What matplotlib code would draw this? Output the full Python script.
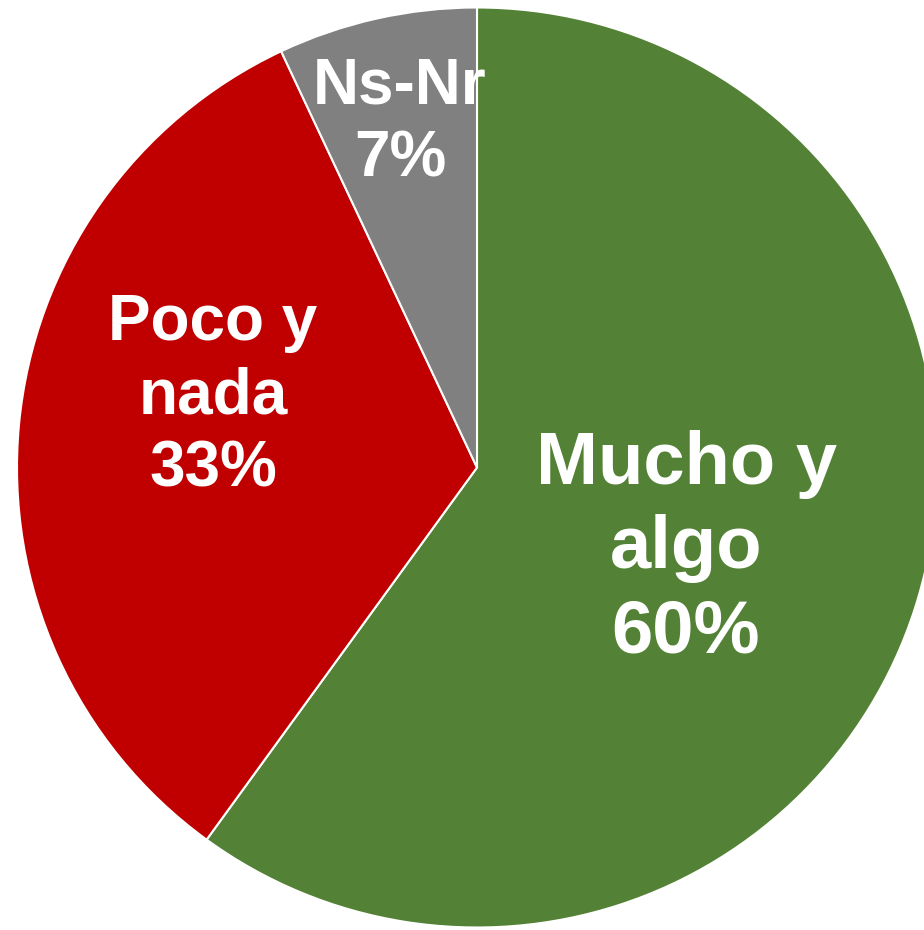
import matplotlib
matplotlib.use("Agg")
import matplotlib.pyplot as plt
import numpy as np

categories = ["Mucho y\nalgo", "Poco y\nnada", "Ns-Nr"]
values = [60, 33, 7]
colors = ["#538135", "#C00000", "#808080"]

# label placement (polar, relative to pie) and font sizes
label_angles = [-21.3, 164.85, 102.6]
label_radii = [0.4877, 0.5946, 0.7674]
label_sizes = [53.5, 46, 46]

fig = plt.figure(figsize=(9.24, 9.30), dpi=100)
ax = fig.add_axes([0, 0, 1, 1])
R = 460
cx, cy = 477, 930 - 467.5
wedges, _ = ax.pie(values, colors=colors, startangle=90, counterclock=False,
                   radius=R, center=(cx, cy),
                   wedgeprops=dict(edgecolor="white", linewidth=1.5))
for cat, v, a, r, s in zip(categories, values, label_angles, label_radii, label_sizes):
    x = cx + r * R * np.cos(np.deg2rad(a))
    y = cy + r * R * np.sin(np.deg2rad(a))
    ax.text(x, y, f"{cat}\n{v}%", ha="center", va="center", color="white",
            fontsize=s, fontweight="bold", family=["Liberation Sans", "DejaVu Sans"],
            linespacing=1.28)
ax.set_xlim(0, 924)
ax.set_ylim(0, 930)
ax.set_aspect("equal")
ax.axis("off")
fig.savefig("out.png", dpi=100)
